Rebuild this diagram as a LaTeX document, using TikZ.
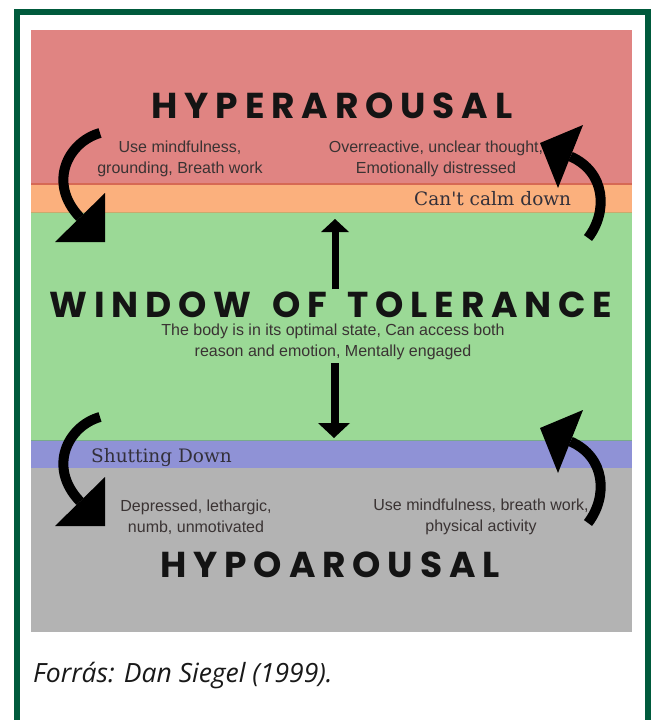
\documentclass[tikz,border=0pt]{standalone}
\usepackage{fontspec}
\setmainfont{Liberation Sans}
\newfontfamily\titlefont{Poppins}[LetterSpace=19]
\newfontfamily\slabfont{DejaVu Serif}
\newfontfamily\capfont{Open Sans}
\definecolor{bordergreen}{HTML}{005A3C}
\definecolor{hyperred}{HTML}{E08482}
\definecolor{calmorange}{HTML}{FBB07D}
\definecolor{tolgreen}{HTML}{9BD996}
\definecolor{shutpurple}{HTML}{8F92D6}
\definecolor{hypogray}{HTML}{B3B3B3}
\definecolor{bodytext}{HTML}{3A3333}
\definecolor{slabtext}{HTML}{33303A}
\tikzset{
  title/.style={font=\titlefont\bfseries\fontsize{36}{40}\selectfont, text=black!92, inner sep=0pt, text height=26pt, text depth=0pt},
  body/.style={font=\fontsize{16}{21}\selectfont, text=bodytext, align=center, inner sep=0pt},
  slab/.style={font=\slabfont\fontsize{18.5}{22}\selectfont, text=slabtext, inner sep=0pt},
  shaft/.style={line width=10pt, line cap=butt, draw=black},
  straight/.style={line width=7pt, line cap=butt, draw=black},
  headfill/.style={fill=black, draw=none}
}
\begin{document}
\begin{tikzpicture}[x=1pt,y=-1pt]
\useasboundingbox (0,0) rectangle (654,720);
\fill[white] (0,0) rectangle (654,720);
% frame
\draw[bordergreen, line width=6pt] (17,725) -- (17,12) -- (648,12) -- (648,725);
% bands
\fill[hyperred] (31,30) rectangle (632,184);
\fill[calmorange] (31,184) rectangle (632,212);
\fill[tolgreen] (31,212) rectangle (632,440);
\fill[shutpurple] (31,440) rectangle (632,468);
\fill[hypogray] (31,468) rectangle (632,632);
\draw[color={rgb,255:red,214;green,104;blue,84}, line width=1.5pt] (31,184) -- (632,184);
\draw[color={rgb,255:red,200;green,170;blue,110}, line width=0.8pt] (31,212) -- (632,212);
\draw[color={rgb,255:red,120;green,170;blue,140}, line width=0.8pt] (31,440) -- (632,440);
% titles
\node[title] (hyper) at (332,105) {HYPERAROUSAL};
\node[title] (window) at (331,304) {WINDOW\hspace{6pt} OF\hspace{6pt} TOLERANCE};
\node[title] (hypo) at (330,564) {HYPOAROUSAL};
% body texts
\node[body] (usemind) at (180,159) {Use mindfulness,\\grounding, Breath work};
\node[body] (overreact) at (436,159) {Overreactive, unclear thought,\\Emotionally distressed};
\node[body] (optimal) at (333,342) {The body is in its optimal state, Can access both\\reason and emotion, Mentally engaged};
\node[body] (depressed) at (196,517) {Depressed, lethargic,\\numb, unmotivated};
\node[body] (usemind2) at (481,517) {Use mindfulness, breath work,\\physical activity};
\node[slab, anchor=base west] (calm) at (414,205) {Can't calm down};
\node[slab, anchor=base west] (shut) at (91,462) {Shutting Down};
% caption
\node[font=\capfont\itshape\fontsize{26.5}{30}\selectfont, text=black!90, anchor=base west, inner sep=0pt] (source) at (33,682) {Forrás: Dan Siegel (1999).};
% straight arrows
\coordinate (upbot) at (335.5,289);
\coordinate (uptop) at (335.5,232);
\draw[straight] (upbot) -- (uptop);
\fill[headfill] (321,232) -- (335,219) -- (349,232) -- cycle;
\coordinate (dntop) at (335,363);
\coordinate (dnbot) at (335,423);
\draw[straight, line width=8pt] (dntop) -- (dnbot);
\fill[headfill] (318,423) -- (334,438) -- (350,423) -- cycle;
% curved arrows, left
\foreach \dy in {0,284}{
  \begin{scope}[yshift=-\dy pt]
    \coordinate (ls) at (100,133);
    \coordinate (le) at (80,217.5);
    \draw[shaft] (ls) .. controls (68,142) and (47,183) .. (le);
    \fill[headfill] (105,193) -- (105,242) -- (55,242) -- cycle;
  \end{scope}
}
% curved arrows, right
\foreach \dy in {0,285}{
  \begin{scope}[yshift=-\dy pt]
    \coordinate (rs) at (588,238);
    \coordinate (re) at (570.5,156.5);
    \draw[shaft] (rs) .. controls (608,212) and (606,172) .. (re);
    \fill[headfill] (583,125) -- (540,143) -- (558,188) -- cycle;
  \end{scope}
}
\end{tikzpicture}
\end{document}
